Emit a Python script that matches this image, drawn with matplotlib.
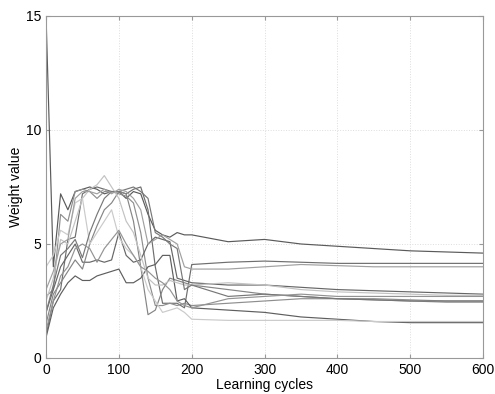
import matplotlib
matplotlib.use("Agg")
import matplotlib.pyplot as plt
import numpy as np

plt.rcParams['font.family'] = ['Liberation Sans', 'DejaVu Sans']

cycles = [0, 10, 20, 30, 40, 50, 60, 70, 80, 90, 100, 110, 120, 130, 140, 150, 160,
          170, 180, 190, 200, 250, 300, 350, 400, 450, 500, 550, 600]

s1 = [15, 4.0, 7.2, 6.5, 7.3, 7.4, 7.5, 7.4, 7.2, 7.3, 7.3, 7.0, 7.3, 7.2, 6.3, 5.6, 5.4, 5.3, 5.5, 5.4, 5.4, 5.1, 5.2, 5.0, 4.9, 4.8, 4.7, 4.65, 4.6]
s2 = [1.0, 2.5, 3.0, 5.2, 5.3, 7.2, 7.4, 7.5, 7.4, 7.3, 7.3, 7.2, 7.4, 7.5, 6.5, 4.0, 2.4, 2.4, 2.4, 2.2, 4.1, 4.2, 4.25, 4.2, 4.15, 4.15, 4.15, 4.15, 4.15]
s3 = [2.7, 3.0, 6.3, 6.0, 7.3, 7.4, 7.3, 7.0, 7.3, 7.3, 7.2, 7.1, 6.8, 5.5, 3.5, 2.3, 2.3, 2.4, 2.3, 2.4, 2.3, 2.4, 2.5, 2.6, 2.6, 2.6, 2.55, 2.5, 2.5]
s4 = [2.0, 3.0, 4.0, 4.5, 5.0, 4.2, 4.2, 4.3, 4.2, 4.3, 5.5, 4.5, 4.2, 4.3, 5.0, 5.3, 5.2, 5.1, 3.5, 3.4, 3.3, 3.2, 3.2, 3.1, 3.0, 2.95, 2.9, 2.85, 2.8]
s5 = [1.5, 2.8, 3.3, 3.8, 4.3, 3.9, 5.0, 5.8, 6.5, 6.8, 7.3, 7.2, 6.0, 4.0, 1.9, 2.1, 3.0, 3.5, 3.4, 3.3, 3.2, 3.0, 2.8, 2.7, 2.6, 2.55, 2.5, 2.45, 2.45]
s6 = [0.9, 2.2, 2.8, 3.3, 3.6, 3.4, 3.4, 3.6, 3.7, 3.8, 3.9, 3.3, 3.3, 3.5, 4.0, 4.1, 4.5, 4.5, 2.5, 2.6, 2.2, 2.1, 2.0, 1.8, 1.7, 1.6, 1.55, 1.55, 1.55]
s7 = [2.5, 3.5, 5.2, 5.0, 6.0, 7.0, 7.4, 7.6, 8.0, 7.5, 7.0, 6.0, 5.5, 4.5, 3.5, 3.2, 3.2, 3.4, 3.3, 3.2, 3.2, 3.3, 3.2, 3.0, 2.9, 2.85, 2.8, 2.75, 2.75]
s8 = [4.0, 4.5, 5.6, 5.4, 6.8, 7.0, 5.0, 5.5, 6.0, 6.5, 5.3, 4.8, 4.5, 4.0, 3.0, 2.5, 2.0, 2.1, 2.2, 2.0, 1.7, 1.65, 1.65, 1.65, 1.65, 1.6, 1.6, 1.6, 1.6]
s9 = [2.0, 3.2, 4.5, 4.8, 5.2, 4.4, 5.5, 6.3, 7.0, 7.3, 7.3, 7.4, 7.5, 7.3, 7.0, 5.5, 5.3, 5.0, 4.8, 3.0, 3.2, 2.7, 2.8, 2.7, 2.6, 2.55, 2.5, 2.5, 2.5]
s10 = [3.0, 3.8, 5.0, 5.2, 7.0, 7.3, 7.3, 7.2, 7.4, 7.2, 7.4, 7.3, 7.0, 6.5, 5.0, 5.2, 5.4, 5.2, 5.0, 4.0, 3.9, 3.9, 4.0, 4.1, 4.05, 4.0, 4.0, 4.0, 4.0]
s11 = [1.2, 2.5, 3.6, 4.0, 4.8, 5.0, 4.8, 4.2, 4.8, 5.2, 5.6, 5.0, 4.5, 4.0, 3.8, 3.5, 3.3, 3.0, 2.5, 2.3, 2.2, 2.6, 2.7, 2.8, 2.7, 2.7, 2.7, 2.7, 2.7]

series = [s1, s2, s3, s4, s5, s6, s7, s8, s9, s10, s11]
colors = ['#5a5a5a', '#6e6e6e', '#8e8e8e', '#666666', '#858585', '#5e5e5e',
          '#c2c2c2', '#cacaca', '#777777', '#a0a0a0', '#939393']

fig = plt.figure(figsize=(4.95, 3.94), dpi=100)
ax = fig.add_axes([0.093, 0.0914, 0.883, 0.868])

for s, c in zip(series, colors):
    ax.plot(cycles, s, color=c, lw=0.85)

ax.set_xlim(0, 600)
ax.set_ylim(0, 15)
ax.set_xticks([0, 100, 200, 300, 400, 500, 600])
ax.set_yticks([0, 5, 10, 15])
ax.grid(True, linestyle=':', color='#dddddd', lw=0.7)
ax.tick_params(direction='in', labelsize=10, length=3, color='#999999', top=True, right=True)
for sp in ax.spines.values():
    sp.set_color('#999999')
ax.set_xlabel('Learning cycles', fontsize=10, labelpad=1)
ax.set_ylabel('Weight value', fontsize=10, labelpad=2)

fig.savefig('out.png', dpi=100)
